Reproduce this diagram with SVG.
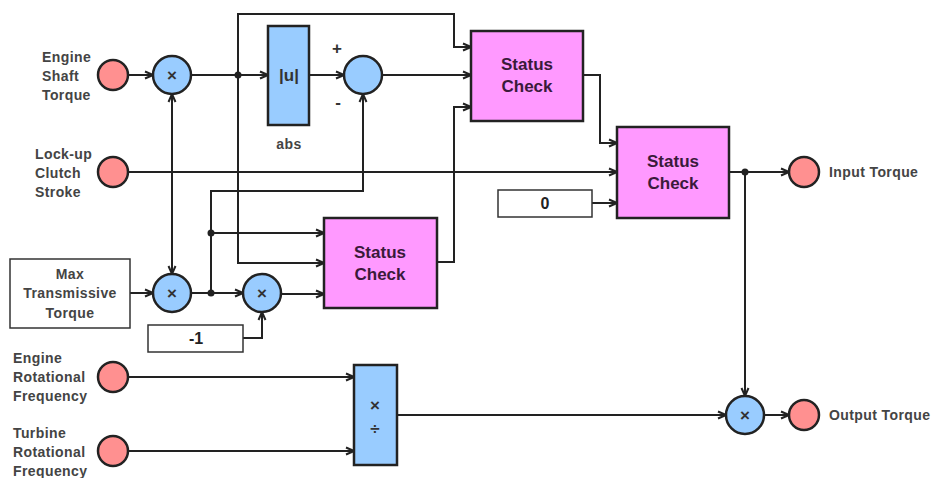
<svg xmlns="http://www.w3.org/2000/svg" width="939" height="478" viewBox="0 0 939 478">
<defs>
<marker id="arr" viewBox="0 0 10 10" refX="9" refY="5" markerWidth="10" markerHeight="10" markerUnits="userSpaceOnUse" orient="auto-start-reverse">
<path d="M1,1.5 L9,5 L1,8.5" fill="none" stroke="#222" stroke-width="2" stroke-linejoin="miter"/>
</marker>
<style>
.w{fill:none;stroke:#222;stroke-width:2;}
.a{marker-end:url(#arr);}
.dot{fill:#222;}
.port{fill:#ff9090;stroke:#222;stroke-width:2.5;}
.op{fill:#99ccff;stroke:#222;stroke-width:2.5;}
.blk{fill:#99ccff;stroke:#222;stroke-width:2.5;}
.sc{fill:#ff99ff;stroke:#222;stroke-width:2.5;}
.cst{fill:#fff;stroke:#333;stroke-width:1.5;}
.lbl{font-family:"Liberation Sans",Arial,sans-serif;font-weight:bold;font-size:14px;fill:#444;letter-spacing:0.4px;}
.sct{font-family:"Liberation Sans",Arial,sans-serif;font-weight:bold;font-size:17px;fill:#3a1a3a;text-anchor:middle;}
.sym{font-family:"Liberation Sans",Arial,sans-serif;font-weight:bold;font-size:17px;fill:#333;text-anchor:middle;}
.num{font-family:"Liberation Sans",Arial,sans-serif;font-weight:bold;font-size:16px;fill:#222;text-anchor:middle;}
</style>
</defs>
<rect width="939" height="478" fill="#fff"/>
<g id="connectors">
<path class="w a" d="M128,75 H153"/>
<path class="w a" d="M191,75 H268"/>
<path class="w a" d="M309,75 H344"/>
<path class="w a" d="M382,75 H471"/>
<path class="w a" d="M238,75 V14 H454 V47 H471"/>
<path class="w a" d="M437,262 H454 V107 H471"/>
<path class="w a" d="M583,75 H600 V143 H617"/>
<path class="w a" d="M128,172 H617"/>
<path class="w a" d="M592,203 H617"/>
<path class="w a" d="M729,172 H789"/>
<path class="w a" d="M745,172 V396"/>
<path class="w a" d="M764,415 H789"/>
<path class="w a" d="M397,415 H726"/>
<path class="w a" d="M128,377 H354"/>
<path class="w a" d="M128,451 H354"/>
<path class="w a" d="M130,293 H153"/>
<path class="w a" d="M191,293 H243"/>
<path class="w a" d="M211,293 V191 H363 V94"/>
<path class="w a" d="M211,233 H324"/>
<path class="w a" d="M238,75 V263 H324"/>
<path class="w a" d="M281,294 H324"/>
<path class="w a" d="M243,338 H262 V312"/>
<path class="w" d="M172,94 V274" marker-start="url(#arr)" marker-end="url(#arr)"/>
<circle class="dot" cx="238" cy="75" r="3.5"/>
<circle class="dot" cx="211" cy="233" r="3.5"/>
<circle class="dot" cx="211" cy="293" r="3.5"/>
<circle class="dot" cx="745" cy="172" r="3.5"/>
</g>
<g id="in_engine_shaft_torque">
<circle class="port" cx="113" cy="75" r="15"/>
<text class="lbl" x="42" y="62">Engine</text>
<text class="lbl" x="42" y="81">Shaft</text>
<text class="lbl" x="42" y="100">Torque</text>
</g>
<g id="in_lockup">
<circle class="port" cx="113" cy="172" r="15"/>
<text class="lbl" x="35" y="159">Lock-up</text>
<text class="lbl" x="35" y="178">Clutch</text>
<text class="lbl" x="35" y="197">Stroke</text>
</g>
<g id="max_torque">
<rect class="cst" x="10" y="259" width="120" height="69"/>
<text class="lbl" x="70" y="279" text-anchor="middle">Max</text>
<text class="lbl" x="70" y="298" text-anchor="middle">Transmissive</text>
<text class="lbl" x="70" y="318" text-anchor="middle">Torque</text>
</g>
<g id="in_engine_rot">
<circle class="port" cx="113" cy="377" r="15"/>
<text class="lbl" x="13" y="363">Engine</text>
<text class="lbl" x="13" y="382">Rotational</text>
<text class="lbl" x="13" y="401">Frequency</text>
</g>
<g id="in_turbine_rot">
<circle class="port" cx="113" cy="451" r="15"/>
<text class="lbl" x="13" y="438">Turbine</text>
<text class="lbl" x="13" y="457">Rotational</text>
<text class="lbl" x="13" y="476">Frequency</text>
</g>
<g id="mult1">
<circle class="op" cx="172" cy="75" r="19"/>
<text class="sym" x="172" y="81">×</text>
</g>
<g id="mult2">
<circle class="op" cx="172" cy="293" r="19"/>
<text class="sym" x="172" y="299">×</text>
</g>
<g id="mult3">
<circle class="op" cx="262" cy="293" r="19"/>
<text class="sym" x="262" y="299">×</text>
</g>
<g id="neg1">
<rect class="cst" x="148" y="325" width="95" height="27"/>
<text class="num" x="196" y="344">-1</text>
</g>
<g id="abs">
<rect class="blk" x="268" y="26" width="41" height="99"/>
<text class="sym" x="289" y="81" font-size="15">|u|</text>
<text class="lbl" x="289" y="149" text-anchor="middle" font-size="16">abs</text>
</g>
<g id="sum">
<circle class="op" cx="363" cy="75" r="19"/>
<text class="sym" x="337" y="54" font-size="14">+</text>
<text class="sym" x="338" y="108" font-size="14">-</text>
</g>
<g id="status1">
<rect class="sc" x="471" y="31" width="112" height="90"/>
<text class="sct" x="527" y="70">Status</text>
<text class="sct" x="527" y="92">Check</text>
</g>
<g id="status2">
<rect class="sc" x="324" y="218" width="113" height="90"/>
<text class="sct" x="380" y="258">Status</text>
<text class="sct" x="380" y="280">Check</text>
</g>
<g id="status3">
<rect class="sc" x="617" y="127" width="112" height="91"/>
<text class="sct" x="673" y="167">Status</text>
<text class="sct" x="673" y="189">Check</text>
</g>
<g id="zero">
<rect class="cst" x="498" y="190" width="94" height="27"/>
<text class="num" x="545" y="209">0</text>
</g>
<g id="divide">
<rect class="blk" x="354" y="365" width="43" height="100"/>
<text class="sym" x="375" y="411">×</text>
<text class="sym" x="375" y="434">÷</text>
</g>
<g id="mult4">
<circle class="op" cx="745" cy="415" r="19"/>
<text class="sym" x="745" y="421">×</text>
</g>
<g id="out_input_torque">
<circle class="port" cx="804" cy="172" r="15"/>
<text class="lbl" x="829" y="177">Input Torque</text>
</g>
<g id="out_output_torque">
<circle class="port" cx="804" cy="415" r="15"/>
<text class="lbl" x="829" y="420">Output Torque</text>
</g>
</svg>
